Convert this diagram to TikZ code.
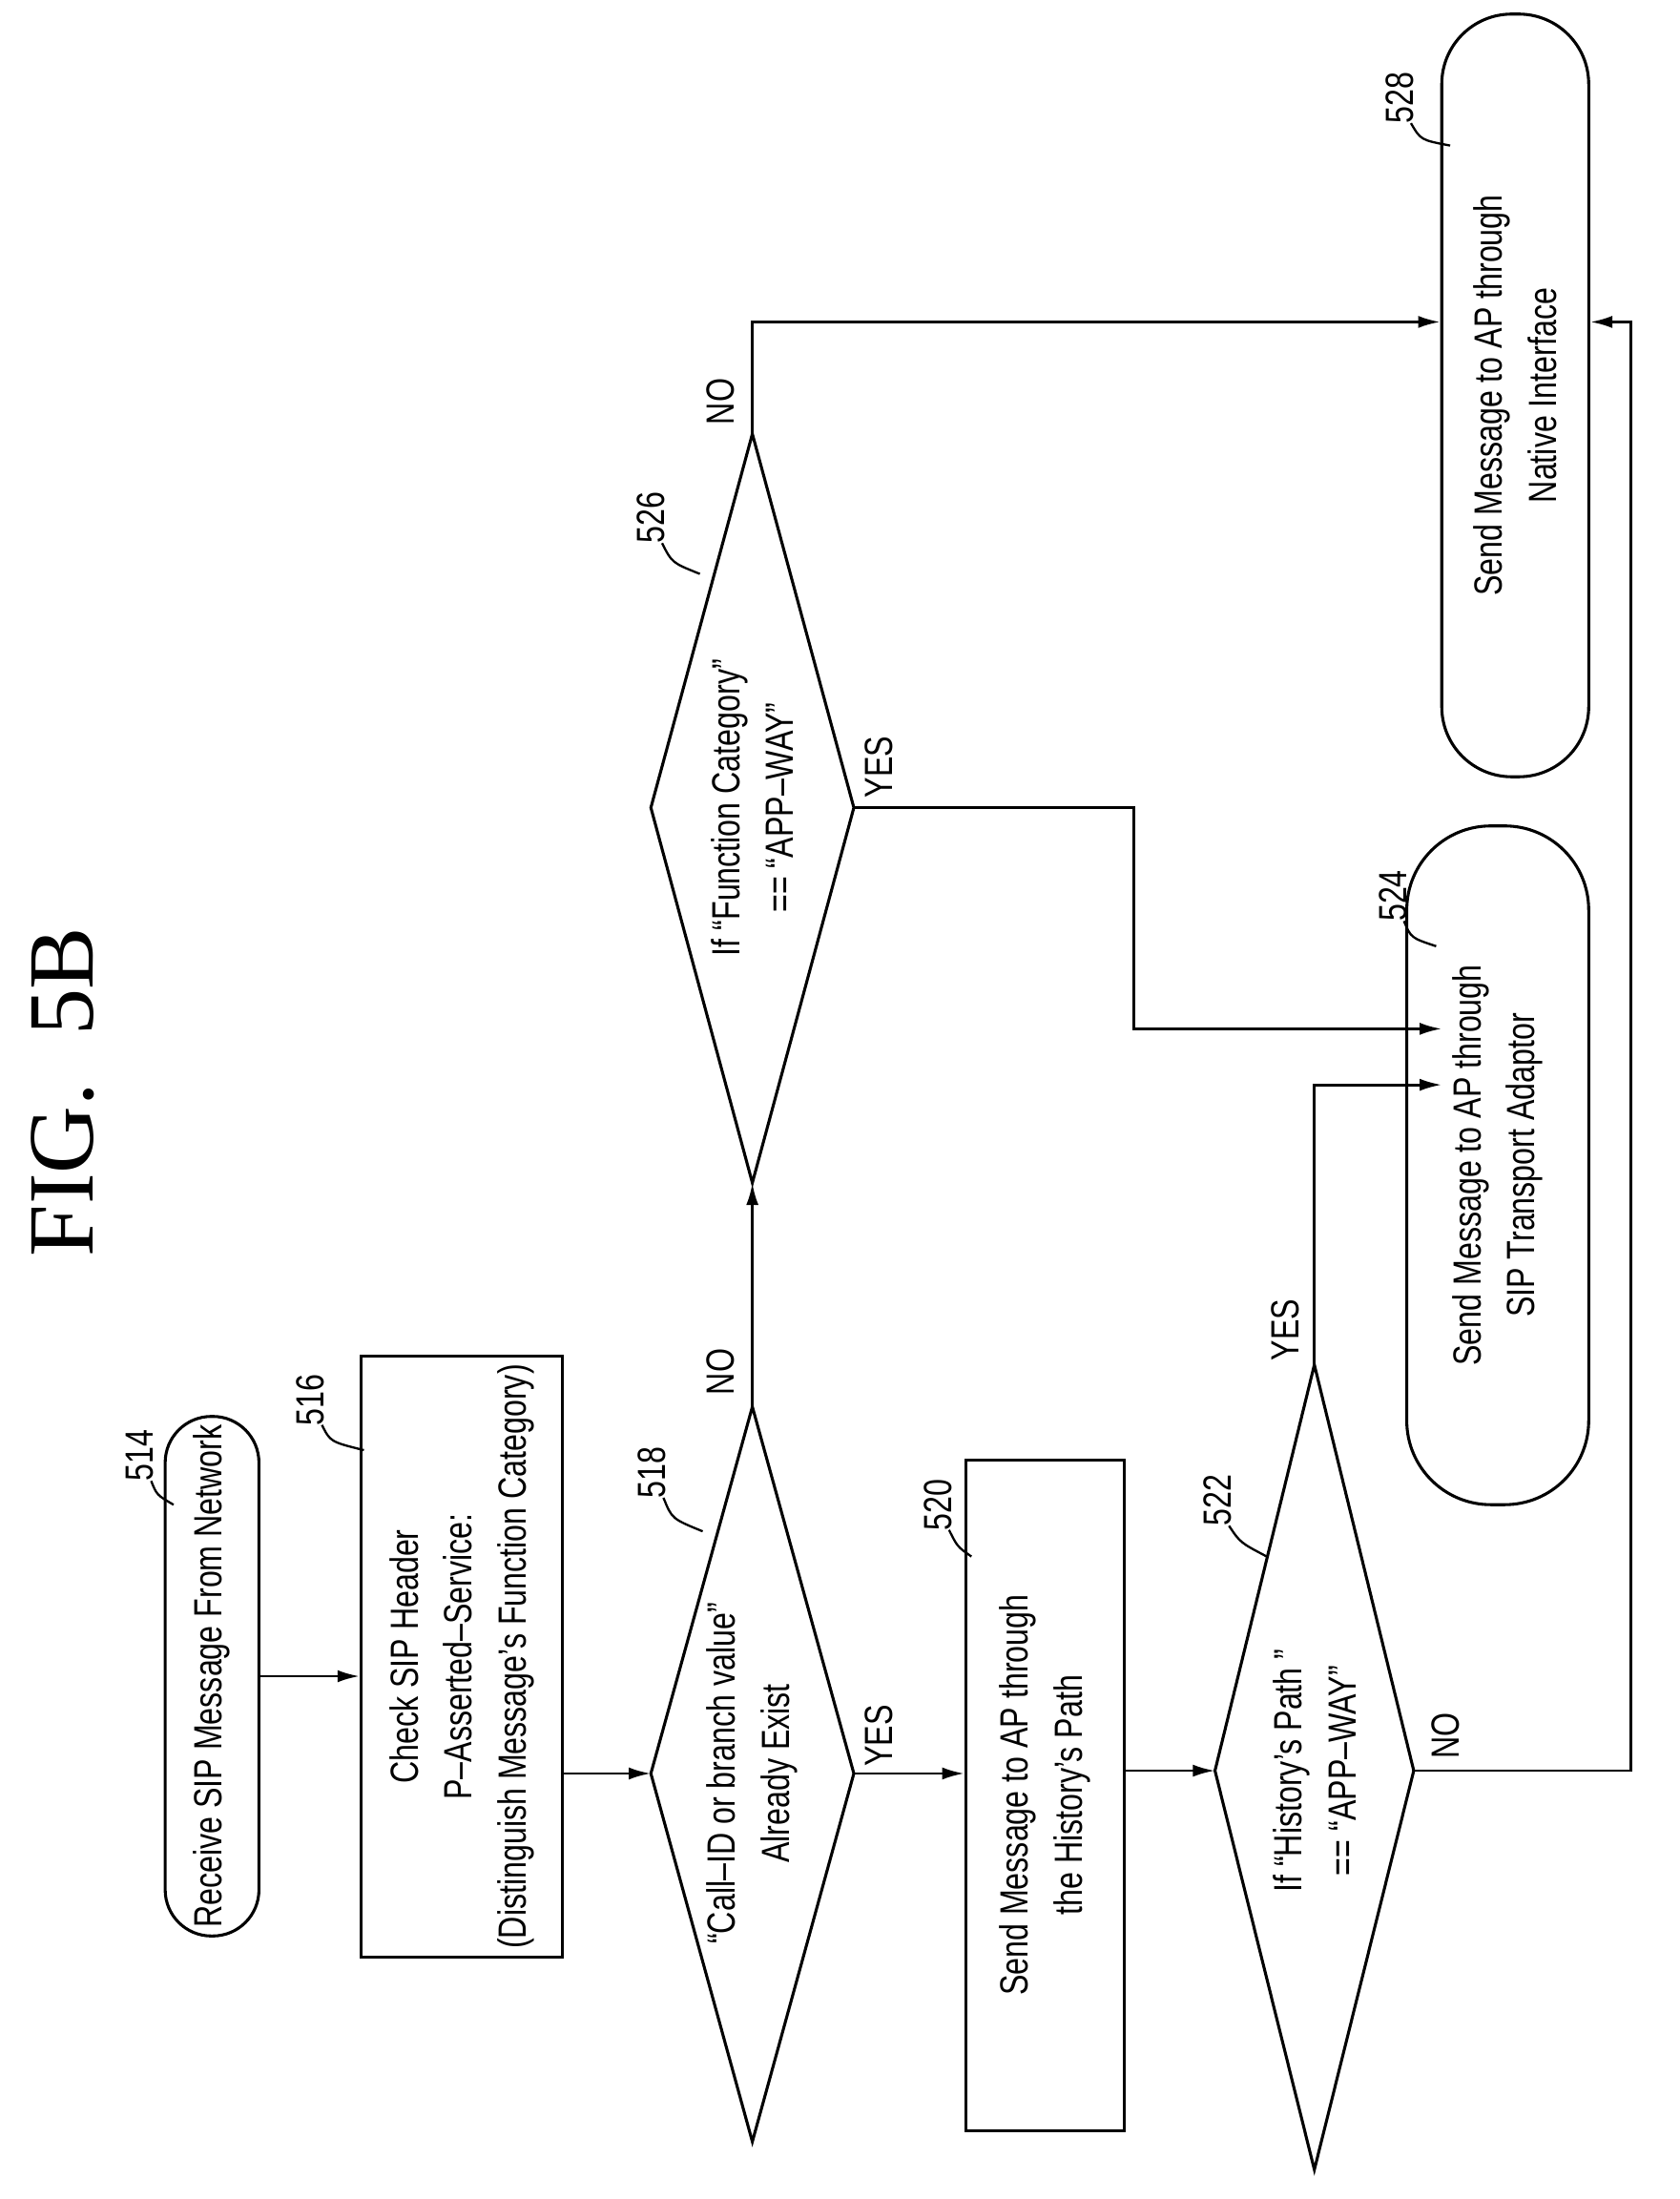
\documentclass[tikz,border=0pt]{standalone}
\usepackage{fontspec}
\setmainfont{Liberation Sans}[FakeStretch=0.78]
\newfontfamily\titlefont{Liberation Serif}
\usetikzlibrary{arrows.meta}
\begin{document}
\begin{tikzpicture}[x=0.02cm,y=-0.02cm,
  lbl/.style={rotate=90,font=\fontsize{16}{22}\selectfont,align=center},
  box/.style={draw,line width=1.2pt,rotate=90,font=\fontsize{16}{22}\selectfont,align=center},
  rbox/.style={box,rounded corners=#1},
  dia/.style={draw,line width=1.2pt},
  arr/.style={line width=1.1pt,-{Latex[length=9pt,width=5pt]}},
  num/.style={rotate=90,font=\fontsize{16}{20}\selectfont},
  lead/.style={line width=0.9pt}]
\useasboundingbox (0,0) rectangle (1200,1571);
\node[rotate=90,font=\titlefont\fontsize{38}{44}\selectfont] (title) at (45,780) {FIG.\ \ 5B};
% boxes
\node[rbox=0.66cm,minimum width=7.3cm,minimum height=1.34cm] (b514) at (151.5,1197.5) {Receive SIP Message From Network};
\node[box,minimum width=8.06cm,minimum height=2.88cm] (b516) at (330,1183.5) {Check SIP Header\\P--Asserted--Service:\\(Distinguish Message's Function Category)};
\node[box,minimum width=9.58cm,minimum height=2.26cm] (b520) at (746.5,1282.5) {Send Message to AP through\\the History's Path};
\node[rbox=1.2cm,minimum width=9.7cm,minimum height=2.6cm] (b524) at (1070,832.5) {Send Message to AP through\\SIP Transport Adaptor};
\node[rbox=1.0cm,minimum width=10.9cm,minimum height=2.1cm] (b528) at (1082.5,282.5) {Send Message to AP through\\Native Interface};
% diamonds
\coordinate (d518l) at (465,1267); \coordinate (d518r) at (610,1267);
\coordinate (d518t) at (537.5,1005); \coordinate (d518b) at (537.5,1530);
\draw[dia] (d518l)--(d518t)--(d518r)--(d518b)--cycle;
\node[lbl] (t518) at (537.5,1267) {``Call--ID or branch value''\\Already Exist};
\coordinate (d522l) at (868,1265); \coordinate (d522r) at (1010,1265);
\coordinate (d522t) at (939,975); \coordinate (d522b) at (939,1550);
\draw[dia] (d522l)--(d522t)--(d522r)--(d522b)--cycle;
\node[lbl] (t522) at (939,1265) {If ``History's Path ''\\== ``APP--WAY''};
\coordinate (d526l) at (465,577); \coordinate (d526r) at (610,577);
\coordinate (d526t) at (537.5,310); \coordinate (d526b) at (537.5,845);
\draw[dia] (d526l)--(d526t)--(d526r)--(d526b)--cycle;
\node[lbl] (t526) at (537.5,577) {If ``Function Category''\\== ``APP--WAY''};
% connectors
\draw[arr] (b514.south) -- (b516.north |- b514.south);
\draw[arr] (b516.south |- d518l) -- (d518l);
\draw[arr] (d518r) -- (b520.north |- d518r);
\draw[arr] (b520.south |- d522l) -- (d522l);
\draw[arr] (d518t) -- (d526b);
\draw[arr] (d522r) -- (1165,1265) -- (1165,230) -- (b528.south |- 0,230);
\draw[arr] (d522t) -- (939,775) -- (1030,775);
\draw[arr] (d526r) -- (810,577) -- (810,735) -- (1030,735);
\draw[arr] (d526t) -- (537.5,230) -- (b528.north |- 0,230);
% branch labels
\node[num] (y518) at (628,1240) {YES};
\node[num] (n518) at (515,980) {NO};
\node[num] (y522) at (918,950) {YES};
\node[num] (n522) at (1033,1240) {NO};
\node[num] (y526) at (628,548) {YES};
\node[num] (n526) at (515,287) {NO};
% reference numbers
\node[num] (r514) at (100,1040) {514};
\draw[lead] (108,1058) .. controls (112,1068) .. (124,1075);
\node[num] (r516) at (222,1000) {516};
\draw[lead] (230,1018) .. controls (236,1030) .. (260,1036);
\node[num] (r518) at (466,1052) {518};
\draw[lead] (474,1070) .. controls (480,1085) .. (502,1094);
\node[num] (r520) at (670,1075) {520};
\draw[lead] (678,1093) .. controls (684,1105) .. (694,1112);
\node[num] (r522) at (870,1072) {522};
\draw[lead] (878,1090) .. controls (886,1102) .. (905,1112);
\node[num] (r524) at (995,640) {524};
\draw[lead] (1003,658) .. controls (1008,670) .. (1026,676);
\node[num] (r526) at (465,370) {526};
\draw[lead] (473,388) .. controls (480,402) .. (500,410);
\node[num] (r528) at (1000,70) {528};
\draw[lead] (1008,88) .. controls (1015,100) .. (1036,104);
\end{tikzpicture}
\end{document}
